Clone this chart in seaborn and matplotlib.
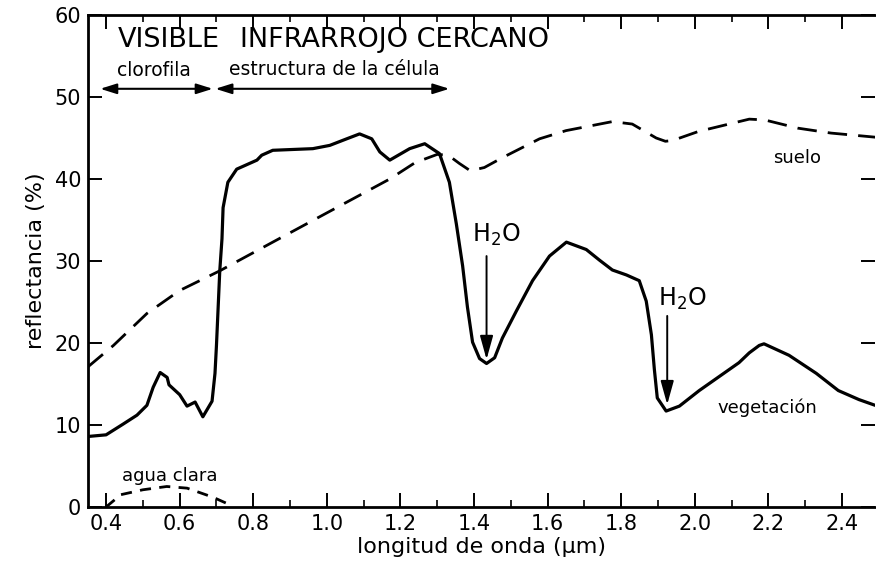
import matplotlib
matplotlib.use("Agg")
import matplotlib.pyplot as plt
import seaborn as sns
import pandas as pd

# ---- data ----
veg_x = [0.351, 0.40, 0.446, 0.484, 0.511, 0.528, 0.547, 0.566, 0.571, 0.60, 0.62,
         0.642, 0.663, 0.688, 0.696, 0.70, 0.709, 0.715, 0.718, 0.731, 0.755, 0.81,
         0.823, 0.853, 0.962, 1.008, 1.054, 1.089, 1.122, 1.144, 1.171, 1.225, 1.266,
         1.306, 1.333, 1.352, 1.369, 1.382, 1.396, 1.415, 1.434, 1.456, 1.477, 1.515,
         1.559, 1.605, 1.651, 1.705, 1.741, 1.776, 1.814, 1.849, 1.868, 1.882, 1.89,
         1.898, 1.922, 1.958, 2.012, 2.066, 2.12, 2.148, 2.175, 2.188, 2.256, 2.33,
         2.39, 2.446, 2.49]
veg_y = [8.6, 8.8, 10.1, 11.2, 12.4, 14.6, 16.4, 15.8, 14.9, 13.7, 12.3,
         12.8, 11.0, 12.9, 16.3, 19.7, 28.8, 32.7, 36.5, 39.6, 41.2, 42.3,
         42.9, 43.5, 43.7, 44.1, 44.9, 45.5, 44.9, 43.3, 42.3, 43.7, 44.3,
         43.1, 39.6, 34.5, 29.4, 24.4, 20.1, 18.1, 17.5, 18.2, 20.6, 23.9,
         27.6, 30.6, 32.3, 31.4, 30.1, 28.9, 28.3, 27.6, 25.1, 21.0, 16.8,
         13.3, 11.7, 12.3, 14.2, 15.9, 17.6, 18.8, 19.7, 19.9, 18.5, 16.3,
         14.2, 13.1, 12.4]

soil_x = [0.351, 0.42, 0.511, 0.60, 0.709, 0.853, 0.989, 1.171, 1.24, 1.30, 1.33,
          1.36, 1.39, 1.428, 1.477, 1.578, 1.65, 1.776, 1.83, 1.895, 1.92, 1.94,
          2.01, 2.148, 2.19, 2.28, 2.37, 2.49]
soil_y = [17.1, 19.7, 23.6, 26.4, 28.8, 32.3, 35.6, 40.0, 42.0, 43.0, 42.9,
          41.9, 41.0, 41.4, 42.6, 44.9, 45.9, 47.0, 46.7, 45.0, 44.6, 44.7,
          45.8, 47.3, 47.2, 46.2, 45.6, 45.1]

water_x = [0.40, 0.44, 0.50, 0.565, 0.62, 0.69, 0.745]
water_y = [0.0, 1.5, 2.1, 2.5, 2.3, 1.2, 0.1]

x_ticks = [0.4, 0.6, 0.8, 1.0, 1.2, 1.4, 1.6, 1.8, 2.0, 2.2, 2.4]
x_tick_labels = ["0.4", "0.6", "0.8", "1.0", "1.2", "1.4", "1.6", "1.8", "2.0", "2.2", "2.4"]
x_minor = [0.5, 0.7, 0.9, 1.1, 1.3, 1.5, 1.7, 1.9, 2.1, 2.3]
y_ticks = [0, 10, 20, 30, 40, 50, 60]

veg = pd.DataFrame({"x": veg_x, "y": veg_y})
soil = pd.DataFrame({"x": soil_x, "y": soil_y})
water = pd.DataFrame({"x": water_x, "y": water_y})

sns.set_style("ticks")
plt.rcParams["font.family"] = ["DejaVu Sans"]
plt.rcParams["mathtext.default"] = "regular"
for k in ["text.color", "axes.labelcolor", "xtick.color", "ytick.color", "axes.edgecolor"]:
    plt.rcParams[k] = "black"

fig = plt.figure(figsize=(8.76, 5.68), dpi=100)
ax = fig.add_axes([0.1005, 0.1074, 0.8985, 0.8662])

sns.lineplot(data=veg, x="x", y="y", ax=ax, color="black", lw=2.3, sort=False,
             solid_joinstyle="round", solid_capstyle="round")
sns.lineplot(data=soil, x="x", y="y", ax=ax, color="black", lw=2.0, sort=False,
             linestyle=(0, (7, 4)), dash_joinstyle="round")
sns.lineplot(data=water, x="x", y="y", ax=ax, color="black", lw=2.0, sort=False,
             linestyle=(0, (4, 3)), dash_joinstyle="round")

ax.set_xlim(0.351, 2.49)
ax.set_ylim(0, 60)
ax.set_xticks(x_ticks)
ax.set_xticklabels(x_tick_labels)
ax.set_xticks(x_minor, minor=True)
ax.set_yticks(y_ticks)
ax.tick_params(axis="both", which="major", direction="in", labelsize=15, width=1.4,
               length=10, pad=5)
ax.tick_params(axis="x", which="minor", direction="in", length=5, width=1.2,
               top=True, bottom=True)
ax.tick_params(axis="x", which="major", top=True)
ax.tick_params(axis="y", which="major", right=True)
for s in ["left", "bottom", "top"]:
    ax.spines[s].set_linewidth(2.0)
ax.spines["right"].set_visible(False)

ax.set_xlabel("longitud de onda (µm)", fontsize=16, labelpad=2)
ax.set_ylabel("reflectancia (%)", fontsize=16, labelpad=6)

# band annotations
ax.text(0.433, 57.0, "VISIBLE", fontsize=19.5, ha="left", va="center")
ax.text(0.765, 57.0, "INFRARROJO CERCANO", fontsize=19.5, ha="left", va="center")
ax.text(0.53, 53.2, "clorofila", fontsize=13.5, ha="center", va="center")
ax.text(1.02, 53.4, "estructura de la célula", fontsize=13.5, ha="center", va="center")
ap = dict(arrowstyle="<|-|>,head_length=0.7,head_width=0.22", color="black", lw=1.5,
          mutation_scale=14, shrinkA=0, shrinkB=0)
ax.annotate("", xy=(0.384, 51.0), xytext=(0.69, 51.0), arrowprops=ap)
ax.annotate("", xy=(0.697, 51.0), xytext=(1.333, 51.0), arrowprops=ap)

# curve labels
ax.text(2.278, 42.5, "suelo", fontsize=13, ha="center", va="center")
ax.text(2.196, 12.1, "vegetación", fontsize=13, ha="center", va="center")
ax.text(0.574, 3.8, "agua clara", fontsize=13, ha="center", va="center")

# water absorption markers
ax.text(1.46, 33.2, "H$_2$O", fontsize=17, ha="center", va="center")
ax.text(1.966, 25.4, "H$_2$O", fontsize=17, ha="center", va="center")
ap2 = dict(arrowstyle="-|>,head_length=0.9,head_width=0.25", color="black", lw=1.4,
           mutation_scale=16, shrinkA=0, shrinkB=0)
ax.annotate("", xy=(1.434, 18.0), xytext=(1.434, 30.6), arrowprops=ap2)
ax.annotate("", xy=(1.925, 12.5), xytext=(1.925, 23.3), arrowprops=ap2)

fig.savefig("out.png", dpi=100)
